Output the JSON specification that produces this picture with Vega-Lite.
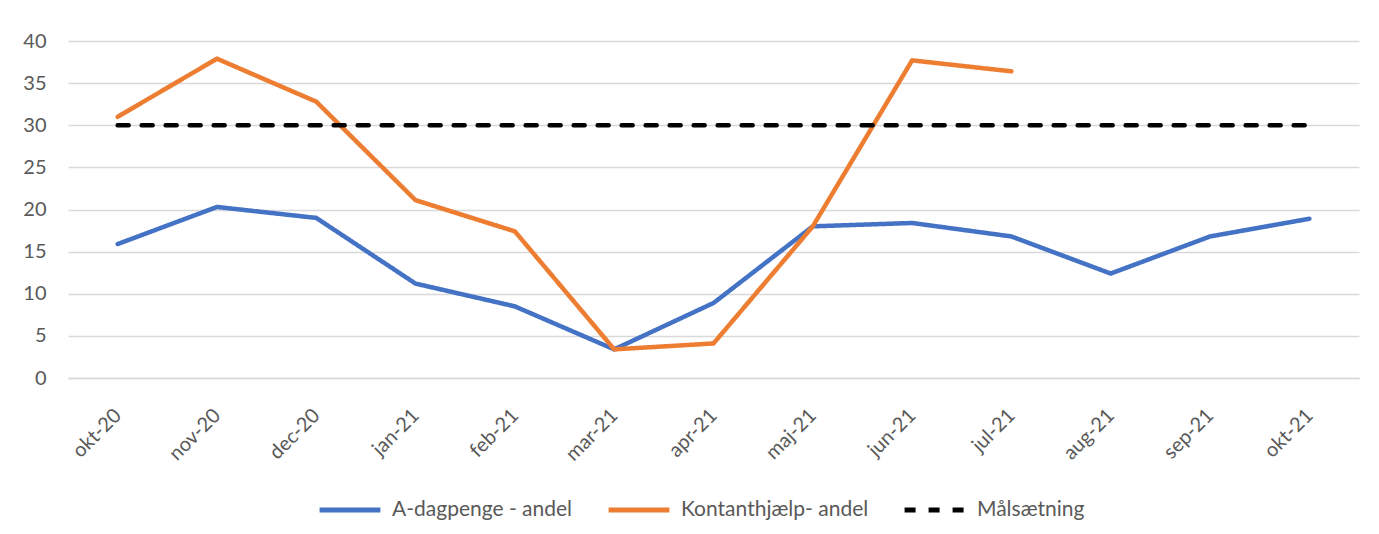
{
  "$schema": "https://vega.github.io/schema/vega-lite/v6.json",
  "autosize": "none",
  "width": 1291,
  "height": 337,
  "padding": {"left": 68, "top": 41, "right": 20, "bottom": 156},
  "background": "white",
  "config": {
    "view": {"stroke": null},
    "font": "Lato",
    "axis": {"labelFont": "Lato", "labelColor": "#595959", "labelFontSize": 20, "gridColor": "#d9d9d9", "gridWidth": 1.5, "domainColor": "#d9d9d9", "domainWidth": 1.5, "ticks": false, "title": null},
    "legend": {"labelFont": "Lato", "labelColor": "#595959", "labelFontSize": 21, "labelLimit": 400}
  },
  "data": {
    "values": [
      {"month": "okt-20", "series": "A-dagpenge - andel", "value": 15.9},
      {"month": "nov-20", "series": "A-dagpenge - andel", "value": 20.3},
      {"month": "dec-20", "series": "A-dagpenge - andel", "value": 19.0},
      {"month": "jan-21", "series": "A-dagpenge - andel", "value": 11.2},
      {"month": "feb-21", "series": "A-dagpenge - andel", "value": 8.5},
      {"month": "mar-21", "series": "A-dagpenge - andel", "value": 3.4},
      {"month": "apr-21", "series": "A-dagpenge - andel", "value": 8.9},
      {"month": "maj-21", "series": "A-dagpenge - andel", "value": 18.0},
      {"month": "jun-21", "series": "A-dagpenge - andel", "value": 18.4},
      {"month": "jul-21", "series": "A-dagpenge - andel", "value": 16.8},
      {"month": "aug-21", "series": "A-dagpenge - andel", "value": 12.4},
      {"month": "sep-21", "series": "A-dagpenge - andel", "value": 16.8},
      {"month": "okt-21", "series": "A-dagpenge - andel", "value": 18.9},
      {"month": "okt-20", "series": "Kontanthjælp- andel", "value": 31.0},
      {"month": "nov-20", "series": "Kontanthjælp- andel", "value": 37.9},
      {"month": "dec-20", "series": "Kontanthjælp- andel", "value": 32.8},
      {"month": "jan-21", "series": "Kontanthjælp- andel", "value": 21.1},
      {"month": "feb-21", "series": "Kontanthjælp- andel", "value": 17.4},
      {"month": "mar-21", "series": "Kontanthjælp- andel", "value": 3.4},
      {"month": "apr-21", "series": "Kontanthjælp- andel", "value": 4.1},
      {"month": "maj-21", "series": "Kontanthjælp- andel", "value": 18.0},
      {"month": "jun-21", "series": "Kontanthjælp- andel", "value": 37.7},
      {"month": "jul-21", "series": "Kontanthjælp- andel", "value": 36.4},
      {"month": "okt-20", "series": "Målsætning", "value": 30},
      {"month": "nov-20", "series": "Målsætning", "value": 30},
      {"month": "dec-20", "series": "Målsætning", "value": 30},
      {"month": "jan-21", "series": "Målsætning", "value": 30},
      {"month": "feb-21", "series": "Målsætning", "value": 30},
      {"month": "mar-21", "series": "Målsætning", "value": 30},
      {"month": "apr-21", "series": "Målsætning", "value": 30},
      {"month": "maj-21", "series": "Målsætning", "value": 30},
      {"month": "jun-21", "series": "Målsætning", "value": 30},
      {"month": "jul-21", "series": "Målsætning", "value": 30},
      {"month": "aug-21", "series": "Målsætning", "value": 30},
      {"month": "sep-21", "series": "Målsætning", "value": 30},
      {"month": "okt-21", "series": "Målsætning", "value": 30}
    ]
  },
  "mark": {"type": "line", "strokeWidth": 4.5, "strokeCap": "round", "strokeJoin": "round"},
  "encoding": {
    "x": {
      "field": "month", "type": "ordinal", "sort": null,
      "scale": {"type": "point", "padding": 0.5},
      "axis": {"labelAngle": -45, "labelAlign": "right", "labelBaseline": "middle", "labelPadding": 34, "grid": false, "domain": true}
    },
    "y": {
      "field": "value", "type": "quantitative",
      "scale": {"domain": [0, 40]},
      "axis": {"values": [0, 5, 10, 15, 20, 25, 30, 35, 40], "domain": false, "grid": true, "labelPadding": 22}
    },
    "color": {
      "field": "series", "type": "nominal",
      "scale": {"domain": ["A-dagpenge - andel", "Kontanthjælp- andel", "Målsætning"], "range": ["#4472C4", "#ED7D31", "#000000"]},
      "legend": {"orient": "none", "legendX": 249, "legendY": 436, "direction": "horizontal", "title": null, "symbolType": "stroke", "symbolSize": 3700, "symbolStrokeWidth": 5, "labelOffset": 9, "columnPadding": 25, "labelLimit": 400}
    },
    "strokeDash": {
      "field": "series", "type": "nominal",
      "scale": {"domain": ["A-dagpenge - andel", "Kontanthjælp- andel", "Målsætning"], "range": [[1, 0], [1, 0], [11, 13]]},
      "legend": {"orient": "none", "legendX": 249, "legendY": 436, "direction": "horizontal", "title": null, "symbolType": "stroke", "symbolSize": 3700, "symbolStrokeWidth": 5, "labelOffset": 9, "columnPadding": 25, "labelLimit": 400}
    },
    "order": {"field": "series"}
  }
}
